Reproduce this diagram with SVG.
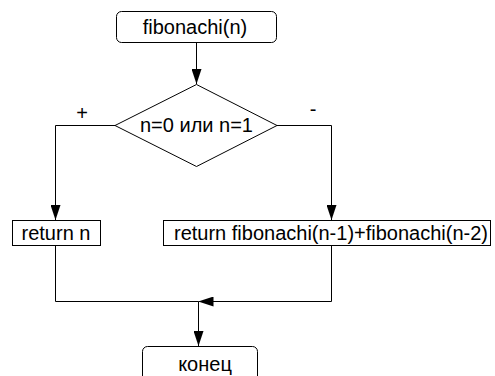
<svg xmlns="http://www.w3.org/2000/svg" width="495" height="376" viewBox="0 0 495 376">
<style>
.s{fill:#fff;stroke:#000;stroke-width:1}
.t{font-family:"Liberation Sans",Arial,sans-serif;font-size:20px;fill:#000}
.c{fill:none;stroke:#000;stroke-width:1}
</style>
<defs>
<marker id="a" markerUnits="userSpaceOnUse" markerWidth="15" markerHeight="10" refX="15" refY="5" orient="auto">
<path d="M0,0 L15,5 L0,10 z" fill="#000"/>
</marker>
</defs>
<rect width="495" height="376" fill="#fff"/>
<g id="connectors">
<path class="c" d="M196.5,43 V84" marker-end="url(#a)"/>
<path class="c" d="M115,125.5 H55.5 V220" marker-end="url(#a)"/>
<path class="c" d="M277,125.5 H331.5 V220" marker-end="url(#a)"/>
<path class="c" d="M55.5,245 V301.5 H198.5"/>
<path class="c" d="M331.5,245 V301.5 H198.5" marker-end="url(#a)"/>
<path class="c" d="M198.5,301.5 V346" marker-end="url(#a)"/>
<text class="t" x="82" y="120" text-anchor="middle">+</text>
<text class="t" x="313" y="116" text-anchor="middle">-</text>
</g>
<g id="start">
<rect class="s" x="116.5" y="11.5" width="160" height="31" rx="5"/>
<text class="t" x="195" y="34" text-anchor="middle">fibonachi(n)</text>
</g>
<g id="decision">
<path class="s" d="M196.5,84.5 L277,125.5 L196.5,166.5 L115,125.5 z"/>
<text class="t" x="196.5" y="132" text-anchor="middle">n=0 или n=1</text>
</g>
<g id="return-n">
<rect class="s" x="12.5" y="220.5" width="88" height="25"/>
<text class="t" x="56" y="240" text-anchor="middle">return n</text>
</g>
<g id="return-fib">
<rect class="s" x="163.5" y="220.5" width="327" height="25"/>
<text class="t" x="331" y="240" text-anchor="middle">return fibonachi(n-1)+fibonachi(n-2)</text>
</g>
<g id="end">
<rect class="s" x="142.5" y="346.5" width="115" height="40" rx="5"/>
<text class="t" x="205" y="371" text-anchor="middle">конец</text>
</g>
</svg>
